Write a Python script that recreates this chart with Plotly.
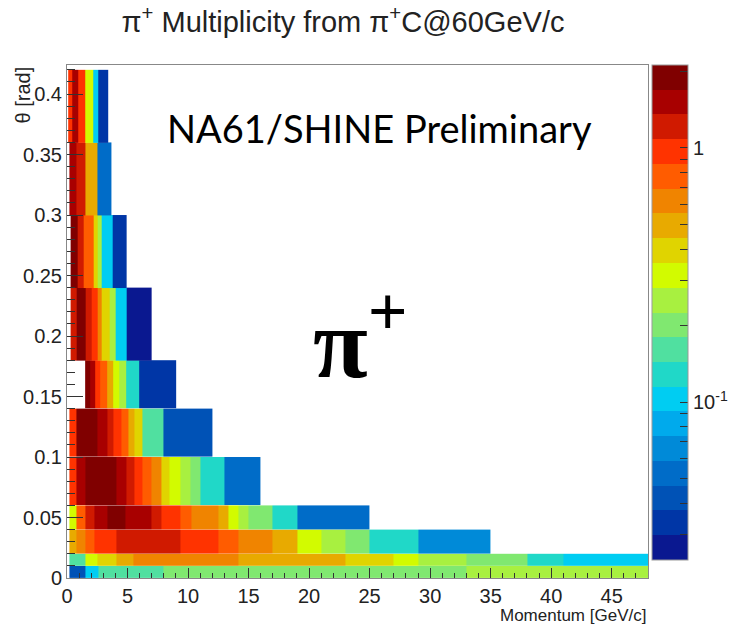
import numpy as np
import plotly.graph_objects as go

# ---- data ----
theta_edges = [0.0, 0.01, 0.02, 0.04, 0.06, 0.10, 0.14, 0.18, 0.24, 0.30, 0.36, 0.42]

p_edges_0 = [0.2, 1.5, 2.6, 4.0, 8.0, 16.0, 25.0, 33.0, 48.0]
mult_0 = [0.045, 0.095, 0.15, 0.163, 0.204, 0.204, 0.204, 0.256]

p_edges_1 = [0.2, 1.5, 2.5, 4.1, 5.5, 9.4, 14.2, 19.0, 23.0, 27.0, 29.0, 33.0, 38.0, 41.0, 48.0]
mult_1 = [0.163, 0.32, 0.40, 0.50, 0.63, 0.63, 0.50, 0.50, 0.40, 0.32, 0.256, 0.204, 0.13, 0.104]

p_edges_2 = [0.2, 0.8, 1.5, 2.3, 4.1, 9.4, 12.5, 14.2, 17.0, 19.0, 21.0, 23.0, 25.0, 29.0, 35.0]
mult_2 = [0.50, 0.63, 0.79, 0.99, 1.24, 0.99, 0.79, 0.63, 0.50, 0.32, 0.256, 0.204, 0.13, 0.066]

p_edges_3 = [0.2, 0.8, 1.5, 2.3, 3.3, 4.8, 7.0, 7.8, 9.4, 10.3, 12.5, 13.3, 14.2, 15.0, 17.0, 19.0, 25.0]
mult_3 = [0.32, 0.79, 1.24, 1.56, 1.95, 1.56, 1.24, 0.99, 0.79, 0.63, 0.50, 0.32, 0.256, 0.204, 0.13, 0.053]

p_edges_4 = [0.2, 0.8, 1.5, 4.1, 4.9, 5.6, 6.2, 7.0, 7.8, 8.5, 9.4, 10.2, 11.0, 13.0, 16.0]
mult_4 = [0.99, 1.56, 1.95, 1.56, 1.24, 0.99, 0.79, 0.63, 0.40, 0.32, 0.256, 0.204, 0.13, 0.053]

p_edges_5 = [0.2, 0.8, 2.5, 3.3, 3.8, 4.5, 5.1, 5.6, 6.2, 8.0, 12.0]
mult_5 = [0.99, 1.95, 1.56, 1.24, 0.99, 0.79, 0.50, 0.40, 0.163, 0.042]

p_edges_6 = [1.5, 1.9, 2.3, 2.7, 3.3, 3.8, 4.3, 4.9, 6.0, 9.0]
mult_6 = [1.95, 1.56, 0.99, 0.79, 0.50, 0.32, 0.256, 0.13, 0.034]

p_edges_7 = [0.3, 0.8, 1.5, 2.0, 2.5, 2.9, 3.5, 4.0, 4.9, 7.0]
mult_7 = [1.24, 1.95, 1.24, 0.99, 0.63, 0.40, 0.256, 0.104, 0.027]

p_edges_8 = [0.3, 0.9, 1.4, 2.2, 2.5, 2.9, 3.8, 4.9]
mult_8 = [1.95, 1.24, 0.79, 0.40, 0.256, 0.104, 0.034]

p_edges_9 = [0.2, 0.8, 1.5, 2.5, 3.7]
mult_9 = [1.56, 1.24, 0.50, 0.053]

p_edges_10 = [0.1, 0.4, 0.9, 1.5, 2.2, 2.6, 3.4]
mult_10 = [0.99, 1.56, 0.99, 0.32, 0.104, 0.034]

rows_p = [p_edges_0, p_edges_1, p_edges_2, p_edges_3, p_edges_4, p_edges_5,
          p_edges_6, p_edges_7, p_edges_8, p_edges_9, p_edges_10]
rows_m = [mult_0, mult_1, mult_2, mult_3, mult_4, mult_5,
          mult_6, mult_7, mult_8, mult_9, mult_10]

z_min, z_max = 0.0239, 2.12
x_ticks = [0, 5, 10, 15, 20, 25, 30, 35, 40, 45]
y_ticks = [0, 0.05, 0.1, 0.15, 0.2, 0.25, 0.3, 0.35, 0.4]
y_ticktext = ["0", "0.05", "0.1", "0.15", "0.2", "0.25", "0.3", "0.35", "0.4"]
cb_minor = [0.03, 0.04, 0.05, 0.06, 0.07, 0.08, 0.09, 0.2, 0.3, 0.4, 0.5, 0.6, 0.7, 0.8, 0.9, 2.0]
cb_major = [0.1, 1.0]
cb_major_text = ["10<sup>-1</sup>", "1"]

# ---- palette: 20 discrete levels (ROOT rainbow-like) ----
palette = ["#0a1890", "#0036a6", "#0052b6", "#006cc8", "#008ad8", "#00aaec",
           "#00cdf2", "#20d8c8", "#50e0a0", "#80e870", "#a8f040", "#d2fb00",
           "#e0d400", "#e8aa00", "#f08400", "#ff5c00", "#ff3300", "#d01a00",
           "#a80000", "#800000"]
n = len(palette)
cscale = []
for i, c in enumerate(palette):
    cscale.append([i / n, c])
    cscale.append([(i + 1) / n, c])

lo, hi = np.log10(z_min), np.log10(z_max)

fig = go.Figure()
for r in range(len(rows_p)):
    fig.add_trace(go.Heatmap(
        x=rows_p[r], y=[theta_edges[r], theta_edges[r + 1]],
        z=[list(np.log10(rows_m[r]))], coloraxis="coloraxis",
        hoverinfo="skip"))

cb_len_px = 495
plot_h = 626 - 65 - 48
cb_vals = cb_minor + cb_major
fig.update_layout(
    width=734, height=626,
    margin=dict(l=67, r=86, t=65, b=48, autoexpand=False),
    plot_bgcolor="white", paper_bgcolor="white",
    font=dict(family="Liberation Sans, Arial, sans-serif", color="#222"),
    title=dict(text="π<sup>+</sup> Multiplicity from π<sup>+</sup>C@60GeV/c",
               x=343 / 734, xanchor="center", y=1 - 22 / 626, yanchor="middle",
               font=dict(size=29, color="#222")),
    coloraxis=dict(
        colorscale=cscale, cmin=lo, cmax=hi,
        colorbar=dict(
            x=1.0064, xanchor="left", xpad=0, y=1, yanchor="top", ypad=0,
            len=cb_len_px, lenmode="pixels", thickness=36,
            outlinewidth=1, outlinecolor="#999",
            tickvals=list(np.log10(cb_vals)),
            ticktext=[""] * len(cb_minor) + cb_major_text,
            ticks="inside", ticklen=8, tickcolor="#333", tickwidth=1,
            tickfont=dict(size=20, color="#222"),
        )),
    xaxis=dict(range=[0, 48], tickvals=x_ticks, ticks="inside", ticklen=10,
               tickcolor="#333", showgrid=False, zeroline=False,
               showline=True, linecolor="#888", mirror=True,
               tickfont=dict(size=20, color="#222"),
               minor=dict(dtick=1, ticks="inside", ticklen=5, tickcolor="#333")),
    yaxis=dict(range=[0, 0.424], tickvals=y_ticks, ticktext=y_ticktext,
               ticks="inside", ticklen=16, tickcolor="#333", showgrid=False,
               zeroline=False, showline=True, linecolor="#888", mirror=True,
               tickfont=dict(size=20, color="#222"),
               minor=dict(dtick=0.01, ticks="inside", ticklen=8, tickcolor="#333")),
)

# longer major ticks on the colour bar
cb_right = (688 - 67) / 581
for v in cb_major:
    yy = 1 - (cb_len_px / plot_h) * (hi - np.log10(v)) / (hi - lo)
    fig.add_shape(type="line", xref="paper", yref="paper",
                  x0=cb_right - 16 / 581, x1=cb_right, y0=yy, y1=yy,
                  line=dict(color="#333", width=1))

fig.add_annotation(text="Momentum [GeV/c]", xref="paper", yref="paper",
                   x=1.0, y=-(615 - 578) / 513, xanchor="right", yanchor="middle",
                   showarrow=False, font=dict(size=17, color="#222"))
fig.add_annotation(text="θ [rad]", xref="paper", yref="paper",
                   x=(22 - 67) / 581, y=1.0, xanchor="center", yanchor="top",
                   textangle=-90, showarrow=False, font=dict(size=20, color="#222"))
fig.add_annotation(text="NA61/SHINE Preliminary", xref="paper", yref="paper",
                   x=(379 - 67) / 581, y=(578 - 128) / 513, xanchor="center",
                   yanchor="middle", showarrow=False,
                   font=dict(family="Lato, sans-serif", size=38, color="black"))
fig.add_annotation(text="<b>π<sup>+</sup></b>", xref="paper", yref="paper",
                   x=(360 - 67) / 581, y=(578 - 336) / 513, xanchor="center",
                   yanchor="middle", showarrow=False,
                   font=dict(family="Liberation Serif, serif", size=100, color="black"))

fig.write_html("out.html")
